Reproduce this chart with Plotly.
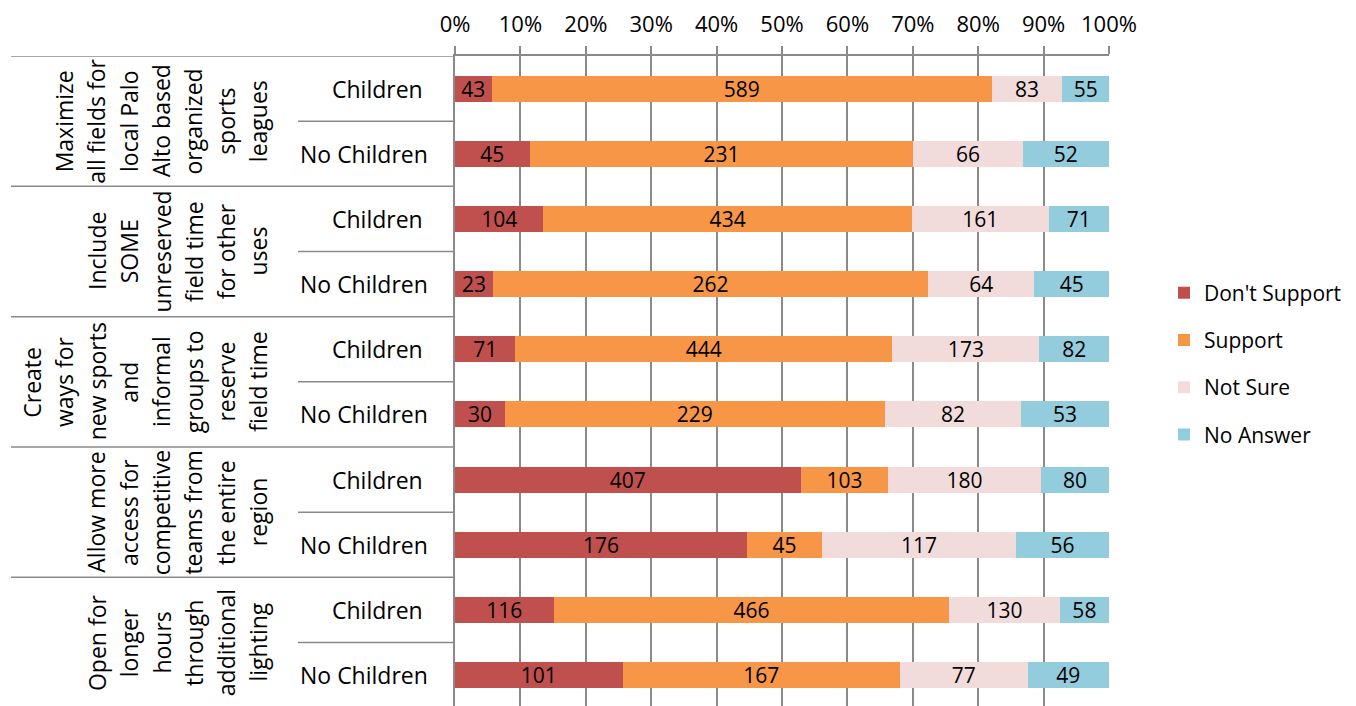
import plotly.graph_objects as go

# dados
GROUPS = [
    ["Maximize", "all fields for", "local Palo", "Alto based", "organized", "sports", "leagues"],
    ["Include", "SOME", "unreserved", "field time", "for other", "uses"],
    ["Create", "ways for", "new sports", "and", "informal", "groups to", "reserve", "field time"],
    ["Allow more", "access for", "competitive", "teams from", "the entire", "region"],
    ["Open for", "longer", "hours", "through", "additional", "lighting"],
]
AUDIENCE = ["Children", "No Children"]

DONT_SUPPORT = [43, 45, 104, 23, 71, 30, 407, 176, 116, 101]
SUPPORT = [589, 231, 434, 262, 444, 229, 103, 45, 466, 167]
NOT_SURE = [83, 66, 161, 64, 173, 82, 180, 117, 130, 77]
NO_ANSWER = [55, 52, 71, 45, 82, 53, 80, 56, 58, 49]

SERIES = [
    ("Don't Support", DONT_SUPPORT, "#C0504D"),
    ("Support", SUPPORT, "#F79646"),
    ("Not Sure", NOT_SURE, "#F2DCDB"),
    ("No Answer", NO_ANSWER, "#93CDDD"),
]

FONT = "Open Sans, sans-serif"
GRID = "#8a8a8a"

# geometria: posições na tela (a página tem margem de 8px no body)
W, H = 1356, 706
BODY = 8
SX0, SX1, SY0, SY1 = 455, 1109, 56, 706
L, T = SX0 - BODY, SY0 - BODY
R, B = W - (SX1 - BODY), H - (SY1 - BODY)


def px_to_paper(px):
    return (px - SX0) / (SX1 - SX0)


def py_to_paper(py):
    return 1 - (py - SY0) / (SY1 - SY0)


rows = [f"{g[0]}|{a}" for g in GROUPS for a in AUDIENCE]

fig = go.Figure()
for i, (name, vals, color) in enumerate(SERIES):
    fig.add_trace(go.Bar(
        name=name,
        y=rows,
        x=vals,
        orientation="h",
        marker=dict(color=color, line=dict(width=0)),
        text=vals,
        textposition="inside",
        insidetextanchor="middle",
        textangle=0,
        insidetextfont=dict(family=FONT, size=21, color="black"),
        legendgroup=f"g{i}",
        hoverinfo="x+name",
    ))

# rótulos de linha (Children / No Children)
ROW_X = {"Children": 377, "No Children": 364}
for r in rows:
    aud = r.split("|")[1]
    fig.add_annotation(
        x=px_to_paper(ROW_X[aud]), xref="paper", y=r, yref="y",
        text=aud, showarrow=False, xanchor="center", yanchor="middle",
        font=dict(family=FONT, size=23, color="black"),
    )

# rótulos de grupo rotacionados, uma linha por anotação
LAST_LINE_X = 258
LINE_STEP = 32.3
for gi, lines in enumerate(GROUPS):
    n = len(lines)
    for li, line in enumerate(lines):
        xpx = LAST_LINE_X - (n - 1 - li) * LINE_STEP
        fig.add_annotation(
            x=px_to_paper(xpx), xref="paper", y=gi * 2 + 0.5, yref="y",
            text=line, showarrow=False, textangle=-90,
            xanchor="center", yanchor="middle",
            font=dict(family=FONT, size=23, color="black"),
        )

# linhas divisórias à esquerda
for k in range(len(GROUPS)):
    fig.add_shape(type="line", xref="paper", yref="y",
                  x0=px_to_paper(11), x1=0, y0=2 * k - 0.5, y1=2 * k - 0.5,
                  line=dict(color=GRID, width=1.5))
    fig.add_shape(type="line", xref="paper", yref="y",
                  x0=px_to_paper(298), x1=0, y0=2 * k + 0.5, y1=2 * k + 0.5,
                  line=dict(color=GRID, width=1.5))

fig.update_layout(
    barmode="stack",
    barnorm="percent",
    bargap=0.6,
    width=W,
    height=H,
    margin=dict(l=L, r=R, t=T, b=B, autoexpand=False),
    paper_bgcolor="white",
    plot_bgcolor="white",
    font=dict(family=FONT, size=22, color="black"),
    uniformtext=dict(minsize=18, mode="show"),
    showlegend=True,
    legend=dict(
        x=px_to_paper(1164), xanchor="left",
        y=py_to_paper(364), yanchor="middle",
        font=dict(family=FONT, size=21, color="black"),
        tracegroupgap=17,
        traceorder="grouped",
        bgcolor="rgba(0,0,0,0)",
    ),
    xaxis=dict(
        side="top",
        range=[0, 100],
        dtick=10,
        ticksuffix="%",
        showgrid=True,
        gridcolor=GRID,
        gridwidth=1.5,
        ticks="outside",
        ticklen=8,
        tickcolor=GRID,
        tickwidth=1.5,
        showline=True,
        linecolor=GRID,
        linewidth=1.5,
        zeroline=False,
        ticklabelstandoff=5,
        automargin=False,
        tickfont=dict(family=FONT, size=22, color="black"),
        fixedrange=True,
    ),
    yaxis=dict(
        type="category",
        categoryorder="array",
        categoryarray=rows,
        range=[9.474, -0.5],
        showticklabels=False,
        showgrid=False,
        showline=True,
        linecolor=GRID,
        linewidth=1.5,
        zeroline=False,
        automargin=False,
        fixedrange=True,
    ),
)

fig.write_html("out.html")
